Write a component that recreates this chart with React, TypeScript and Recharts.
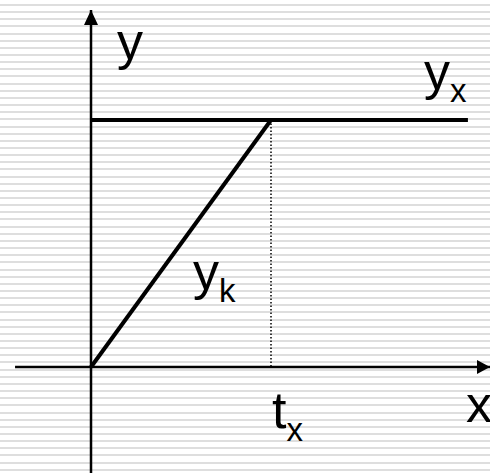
import { ComposedChart, Line, Scatter, XAxis, YAxis } from "recharts";

// axis ranges (data units: tx = 1, yx = 1)
const xDomain = [-0.5056, 2.2167];
const yDomain = [-0.4291, 1.4858];

const xAxisLine = [
  { x: -0.422, y: 0 },
  { x: 2.2167, y: 0 },
];
const yAxisLine = [
  { x: 0, y: -0.4291 },
  { x: 0, y: 1.445 },
];
const ramp = [
  { x: 0, y: 0 },
  { x: 1, y: 1 },
];
const plateau = [
  { x: 0, y: 1 },
  { x: 2.094, y: 1 },
];
const txGuide = [
  { x: 1, y: 1 },
  { x: 1, y: 0 },
];

const labels = [
  { x: 0.144, y: 1.247, main: "y", sub: "" },
  { x: 1.85, y: 1.125, main: "y", sub: "x" },
  { x: 0.567, y: 0.316, main: "y", sub: "k" },
  { x: 1.006, y: -0.247, main: "t", sub: "x" },
  { x: 2.083, y: -0.223, main: "x", sub: "" },
];

const FONT = "'Liberation Sans', Arial, sans-serif";

function RightArrow(props: any) {
  const { cx, cy, index } = props;
  if (index !== 1) return <g key={`ra-${index}`} />;
  return <polygon key="ra" points={`${cx},${cy} ${cx - 13},${cy - 7} ${cx - 13},${cy + 7}`} fill="#000" />;
}

function UpArrow(props: any) {
  const { cx, cy, index } = props;
  if (index !== 1) return <g key={`ua-${index}`} />;
  return <polygon key="ua" points={`${cx},${cy} ${cx - 7},${cy + 15} ${cx + 7},${cy + 15}`} fill="#000" />;
}

function LabelShape(props: any) {
  const { cx, cy, payload } = props;
  return (
    <text x={cx} y={cy} fontFamily={FONT} fontSize={52} fill="#000">
      {payload.main}
      {payload.sub ? (
        <tspan fontSize={33} dy={13}>
          {payload.sub}
        </tspan>
      ) : null}
    </text>
  );
}

export default function App() {
  return (
    <div
      style={{
        position: "absolute",
        top: 0,
        left: 0,
        width: 490,
        height: 473,
        background:
          "repeating-linear-gradient(to bottom, #fff 0px, #fff 4px, #dedede 4px, #dedede 6px, #fff 6px, #fff 7.15px)",
      }}
    >
      <ComposedChart width={490} height={473} margin={{ top: 0, right: 0, bottom: 0, left: 0 }}>
        <XAxis type="number" dataKey="x" domain={xDomain} hide allowDataOverflow />
        <YAxis type="number" dataKey="y" domain={yDomain} hide allowDataOverflow />
        <Line data={xAxisLine} dataKey="y" stroke="#000" strokeWidth={2.5} dot={RightArrow} activeDot={false} isAnimationActive={false} />
        <Line data={yAxisLine} dataKey="y" stroke="#000" strokeWidth={2.5} dot={UpArrow} activeDot={false} isAnimationActive={false} />
        <Line data={txGuide} dataKey="y" stroke="#000" strokeWidth={1.5} strokeDasharray="1.5 2" dot={false} activeDot={false} isAnimationActive={false} />
        <Line data={plateau} dataKey="y" stroke="#000" strokeWidth={4} dot={false} activeDot={false} isAnimationActive={false} />
        <Line data={ramp} dataKey="y" stroke="#000" strokeWidth={4} dot={false} activeDot={false} isAnimationActive={false} />
        <Scatter data={labels} dataKey="y" shape={LabelShape} isAnimationActive={false} />
      </ComposedChart>
    </div>
  );
}
